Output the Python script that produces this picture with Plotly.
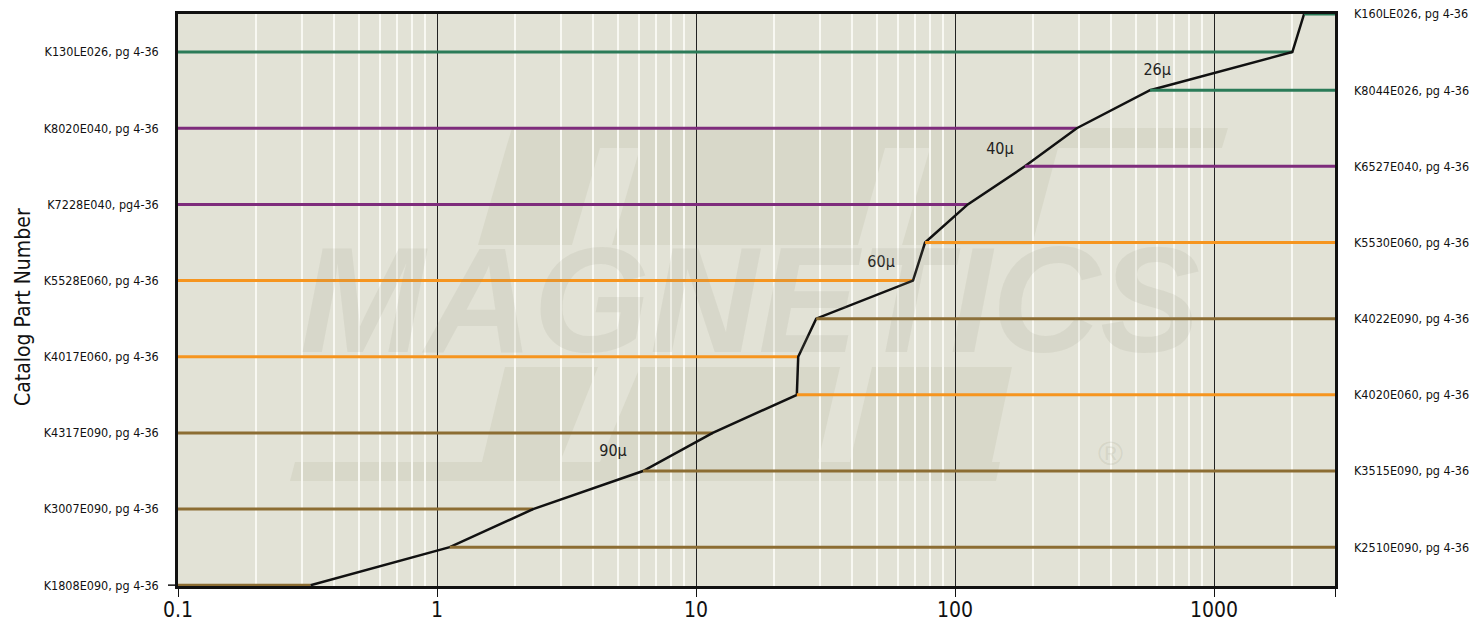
import plotly.graph_objects as go
import math

# ---------------- data ----------------
part_labels = [
    "K1808E090, pg 4-36", "K2510E090, pg 4-36", "K3007E090, pg 4-36", "K3515E090, pg 4-36",
    "K4317E090, pg 4-36", "K4020E060, pg 4-36", "K4017E060, pg 4-36", "K4022E090, pg 4-36",
    "K5528E060, pg 4-36", "K5530E060, pg 4-36", "K7228E040, pg4-36", "K6527E040, pg 4-36",
    "K8020E040, pg 4-36", "K8044E026, pg 4-36", "K130LE026, pg 4-36", "K160LE026, pg 4-36",
]
part_levels = list(range(16))
part_side = ["L", "R"] * 8
part_material = ["090", "090", "090", "090", "090", "060", "060", "090",
                 "060", "060", "040", "040", "040", "026", "026", "026"]
# x value where the selection curve reaches each part level
curve_x = [0.325, 1.12, 2.35, 6.24, 11.6, 24.5, 24.8, 29.1,
           68.8, 76.6, 112, 186, 295, 566, 2006, 2226]

mu_labels = ["90\u03bc", "60\u03bc", "40\u03bc", "26\u03bc"]
mu_x = [4.78, 51.8, 149, 603]
mu_y = [3.51, 8.47, 11.43, 13.5]

x_tick_vals = [0.1, 1, 10, 100, 1000]
x_tick_text = ["0.1", "1", "10", "100", "1000"]
x_min, x_max = 0.1, 2930

material_colors = {"026": "#2b7b58", "040": "#7e2c7c", "060": "#f6951f", "090": "#8c6d33"}

FONT = "Liberation Sans Narrow, DejaVu Sans Condensed, Arial Narrow, sans-serif"
BG = "#e2e2d6"
WM = "#d8d8c9"

fig = go.Figure()

for lvl, side, mat, cx in zip(part_levels, part_side, part_material, curve_x):
    if side == "L":
        xs, ya = [x_min, cx], "y"
    else:
        xs, ya = [cx, x_max], "y2"
    fig.add_trace(go.Scatter(x=xs, y=[lvl, lvl], mode="lines", yaxis=ya,
                             line=dict(color=material_colors[mat], width=3),
                             hoverinfo="skip", showlegend=False))

fig.add_trace(go.Scatter(x=curve_x, y=part_levels, mode="lines",
                         line=dict(color="#111111", width=2.5),
                         showlegend=False, hoverinfo="skip"))

fig.add_trace(go.Scatter(x=mu_x, y=mu_y, mode="text", text=mu_labels,
                         textfont=dict(family=FONT, size=16, color="#222222"),
                         showlegend=False, hoverinfo="skip"))

# ---------------- watermark (decorative) ----------------
PL, PR, PT, PB = 178, 1335, 14, 586
W, H = 1471, 626


def px(x, y):
    return (x - PL) / (PR - PL), (PB - y) / (PB - PT)


def poly(points, color=WM):
    d = ""
    for i, (x, y) in enumerate(points):
        xp, yp = px(x, y)
        d += ("M" if i == 0 else "L") + f"{xp:.4f},{yp:.4f}"
    d += "Z"
    return dict(type="path", path=d, xref="paper", yref="paper", fillcolor=color,
                line=dict(width=0), layer="below")


wm_polys = [
    [(512, 128), (1228, 128), (1222, 148), (506, 148)],
    [(506, 148), (600, 148), (572, 245), (478, 245)],
    [(640, 148), (885, 148), (858, 245), (612, 245)],
    [(930, 148), (1058, 148), (1032, 245), (902, 245)],
    [(505, 367), (1012, 367), (992, 462), (482, 462)],
    [(295, 462), (1000, 462), (996, 481), (290, 481)],
]
shapes = [poly(p) for p in wm_polys]
shapes += [poly([(598, 367), (640, 367), (600, 462), (560, 462)], BG),
           poly([(840, 367), (872, 367), (850, 462), (818, 462)], BG)]

x0p, _ = px(168, 586)
shapes.append(dict(type="line", xref="paper", yref="paper", x0=x0p, x1=0, y0=0.0015, y1=0.0015,
                   line=dict(color="#111111", width=1.5)))

annotations = []
xa, ya = px(750, 300)
annotations.append(dict(x=xa, y=ya, xref="paper", yref="paper", text="<b><i>MAGNETICS</i></b>",
                        showarrow=False, xanchor="center", yanchor="middle",
                        font=dict(family="Liberation Sans, Arial, sans-serif",
                                  size=150, color="rgba(150,150,125,0.13)")))
xa, ya = px(1110, 453)
annotations.append(dict(x=xa, y=ya, xref="paper", yref="paper", text="\u00ae",
                        showarrow=False, xanchor="center", yanchor="middle",
                        font=dict(family="Liberation Sans, Arial, sans-serif",
                                  size=34, color="rgba(150,150,125,0.18)")))
xa, ya = px(23, 307)
annotations.append(dict(x=xa, y=ya, xref="paper", yref="paper", text="Catalog Part Number",
                        textangle=-90, showarrow=False, xanchor="center", yanchor="middle",
                        font=dict(family=FONT, size=21, color="#111111")))

minor_vals = []
for dec in [0.1, 1, 10, 100, 1000]:
    for m in range(2, 10):
        v = dec * m
        if v < x_max:
            minor_vals.append(v)

fig.update_layout(
    width=W, height=H, autosize=False,
    margin=dict(l=PL, r=W - PR, t=PT, b=H - PB, pad=0),
    paper_bgcolor="white", plot_bgcolor=BG,
    shapes=shapes, annotations=annotations,
    xaxis=dict(type="log", range=[math.log10(x_min), math.log10(x_max)], automargin=False,
               tickvals=x_tick_vals + [x_max], ticktext=x_tick_text + [""],
               ticks="outside", ticklen=8, tickwidth=1, tickcolor="#111111",
               ticklabelstandoff=-5,
               showgrid=True, gridcolor="#222222", gridwidth=1,
               showline=True, linecolor="#111111", linewidth=2.5, mirror=True,
               tickfont=dict(family=FONT, size=21, color="#111111"),
               minor=dict(tickvals=minor_vals, showgrid=True, gridcolor="#f8f8f2",
                          gridwidth=1.5, ticks=""),
               zeroline=False),
    yaxis=dict(range=[-0.02, 15.0], tickvals=part_levels[0::2], ticktext=part_labels[0::2],
               automargin=False, showgrid=False, zeroline=False, ticks="", ticklabelstandoff=14,
               showline=True, linecolor="#111111", linewidth=2.5, mirror=True,
               tickfont=dict(family=FONT, size=12.5, color="#111111")),
    yaxis2=dict(range=[-0.02, 15.0], overlaying="y", side="right", automargin=False,
                tickvals=part_levels[1::2], ticktext=part_labels[1::2],
                showgrid=False, zeroline=False, ticks="", ticklabelstandoff=18,
                tickfont=dict(family=FONT, size=12.5, color="#111111")),
)

fig.write_html("out.html", config={"displayModeBar": False},
               post_script="document.body.style.margin='0';document.body.style.overflow='hidden';")
